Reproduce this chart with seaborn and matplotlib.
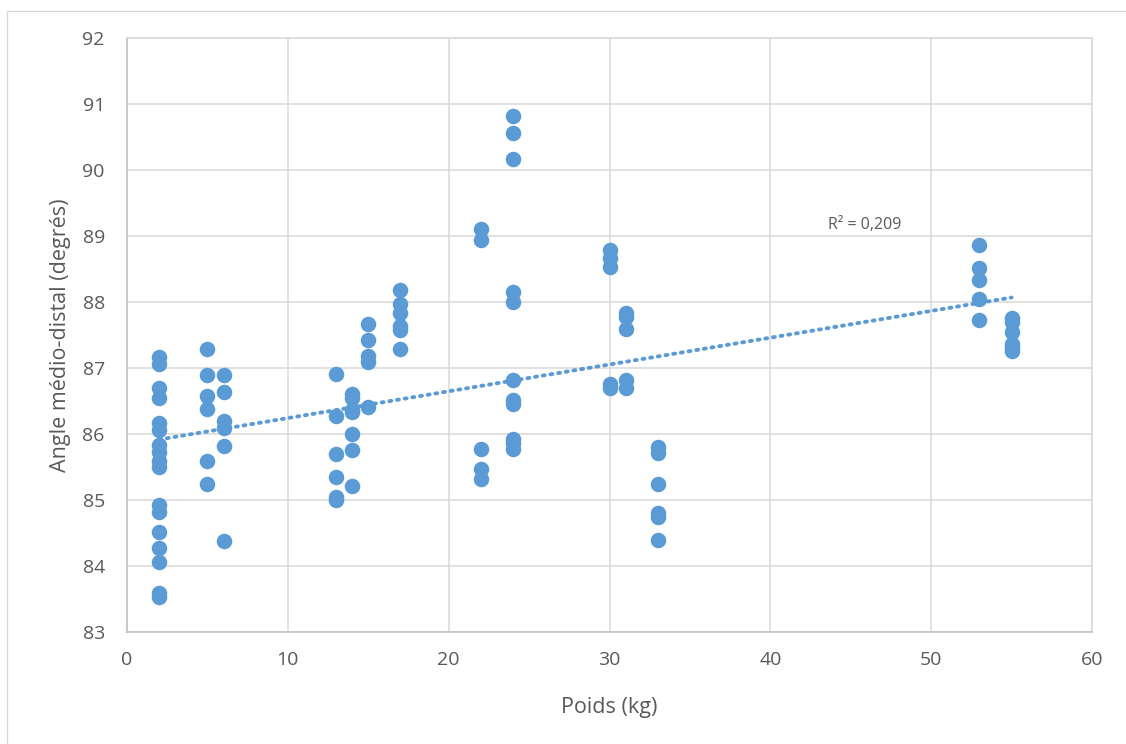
import numpy as np
import pandas as pd
import matplotlib
matplotlib.use("Agg")
import matplotlib.pyplot as plt
import seaborn as sns

# Weight (kg) of each specimen group and the measured medio-distal angle (degrees)
poids_groupes = [2, 5, 6, 13, 14, 15, 17, 22, 24, 30, 31, 33, 53, 55]
angles_groupes = [
    [87.17, 87.06, 86.70, 86.55, 86.17, 86.06, 85.83, 85.73, 85.59, 85.50,
     84.92, 84.82, 84.52, 84.27, 84.06, 83.59, 83.53],
    [87.29, 86.89, 86.58, 86.38, 85.59, 85.24],
    [86.89, 86.64, 86.20, 86.09, 85.82, 84.38],
    [86.91, 86.27, 85.70, 85.35, 85.05, 85.00],
    [86.60, 86.55, 86.37, 86.33, 86.00, 85.75, 85.21],
    [87.67, 87.42, 87.18, 87.09, 86.41],
    [88.18, 87.97, 87.83, 87.63, 87.58, 87.29],
    [89.11, 88.94, 85.77, 85.47, 85.32],
    [90.82, 90.56, 90.17, 88.15, 88.00, 86.82, 86.52, 86.46, 85.92, 85.86, 85.78],
    [88.79, 88.67, 88.53, 86.76, 86.70],
    [87.83, 87.77, 87.59, 86.82, 86.70],
    [85.80, 85.71, 85.24, 84.80, 84.74, 84.39],
    [88.86, 88.52, 88.34, 88.05, 87.72],
    [87.76, 87.70, 87.55, 87.36, 87.31, 87.25],
]
r2_label = "R² = 0,209"

xlabel = "Poids (kg)"
ylabel = "Angle médio-distal (degrés)"
xticks = [0, 10, 20, 30, 40, 50, 60]
yticks = [83, 84, 85, 86, 87, 88, 89, 90, 91, 92]

df = pd.DataFrame(
    [(p, a) for p, vals in zip(poids_groupes, angles_groupes) for a in vals],
    columns=["poids", "angle"],
)

sns.set_theme(style="white")
plt.rcParams["font.family"] = ["Open Sans", "DejaVu Sans"]

blue = "#5B9BD5"
grid_c = "#D9D9D9"
text_c = "#595959"

fig = plt.figure(figsize=(11.26, 7.44), dpi=100)
ax = fig.add_axes([127 / 1126, 1 - 632 / 744, (1092 - 127) / 1126, (632 - 38) / 744])

# chart area border
fig.patches.append(plt.Rectangle((7 / 1126, -0.01), 1.02, 1 - 11 / 744 + 0.01,
                                 transform=fig.transFigure, fill=False,
                                 edgecolor=grid_c, linewidth=1.0))

sns.scatterplot(data=df, x="poids", y="angle", ax=ax, color=blue, s=125,
                linewidth=0, zorder=3)

# linear trend line over the data range
coef = np.polyfit(df["poids"], df["angle"], 1)
xs = np.array([df["poids"].min(), df["poids"].max()])
sns.lineplot(x=xs, y=np.polyval(coef, xs), ax=ax, color=blue, linewidth=2.8,
             linestyle=(0, (0.5, 1.5)), dash_capstyle="round", zorder=4)

ax.text(43.6, 89.17, r2_label, fontsize=11.5, color=text_c, va="center", ha="left")

ax.set_xlim(0, 60)
ax.set_ylim(83, 92)
ax.set_xticks(xticks)
ax.set_yticks(yticks)
ax.grid(True, color=grid_c, linewidth=1.1)
ax.set_axisbelow(True)
for side, sp in ax.spines.items():
    sp.set_color(grid_c)
    sp.set_linewidth(1.1)
ax.spines["left"].set_color("#BFBFBF")
ax.spines["bottom"].set_color("#BFBFBF")
ax.tick_params(axis="both", length=0, labelsize=14, labelcolor=text_c)
ax.tick_params(axis="x", pad=14)
ax.tick_params(axis="y", pad=16)
ax.set_xlabel(xlabel, fontsize=15.5, color=text_c, labelpad=20)
ax.set_ylabel(ylabel, fontsize=15.5, color=text_c, labelpad=8)

fig.savefig("out.png", dpi=100)
